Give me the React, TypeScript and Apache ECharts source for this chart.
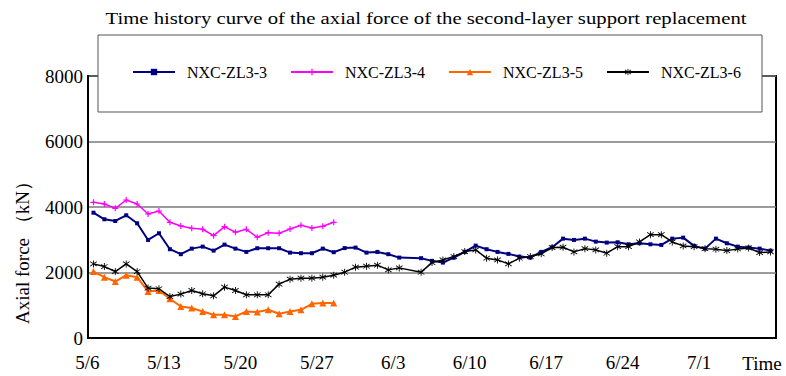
import React, { useEffect, useRef } from "react";
import * as echarts from "echarts";

const categories = [
  "5/6","5/7","5/8","5/9","5/10","5/11","5/12","5/13","5/14","5/15","5/16","5/17","5/18","5/19",
  "5/20","5/21","5/22","5/23","5/24","5/25","5/26","5/27","5/28","5/29","5/30","5/31",
  "6/1","6/2","6/3","6/4","6/5","6/6","6/7","6/8","6/9","6/10","6/11","6/12","6/13","6/14",
  "6/15","6/16","6/17","6/18","6/19","6/20","6/21","6/22","6/23","6/24","6/25","6/26","6/27",
  "6/28","6/29","6/30","7/1","7/2","7/3","7/4","7/5","7/6","7/7",
];

const seriesNames = ["NXC-ZL3-3", "NXC-ZL3-4", "NXC-ZL3-5", "NXC-ZL3-6"];

const zl3_3 = [
  3826, 3625, 3573, 3747, 3503, 2994, 3198, 2711, 2559, 2729, 2790, 2668, 2851, 2729,
  2629, 2741, 2741, 2741, 2607, 2589, 2589, 2729, 2620, 2745, 2760, 2607, 2629, 2559,
  2455, null, 2437, 2355, 2303, 2455, 2629, 2821, 2711, 2629, 2568, 2486, 2455, 2629,
  2772, 3034, 2994, 3034, 2943, 2913, 2923, 2862, 2893, 2862, 2842, 3034, 3065, 2812,
  2729, 3034, 2893, 2790, 2760, 2729, 2668,
];

const zl3_4 = [
  4143, 4091, 3960, 4213, 4091, 3786, 3878, 3533, 3421, 3351, 3320, 3125, 3399, 3229,
  3320, 3076, 3217, 3198, 3329, 3442, 3360, 3410, 3533,
];

const zl3_5 = [
  2029, 1858, 1724, 1919, 1858, 1419, 1450, 1197, 963, 914, 810, 710, 710, 658,
  810, 792, 862, 740, 810, 862, 1045, 1066, 1066,
];

const zl3_6 = [
  2263, 2181, 2029, 2263, 2029, 1523, 1502, 1267, 1340, 1450, 1349, 1288, 1553, 1450,
  1319, 1319, 1319, 1645, 1797, 1828, 1828, 1858, 1919, 2010, 2163, 2193, 2224, 2080,
  2141, null, 2010, 2303, 2385, 2486, 2638, 2690, 2437, 2385, 2263, 2437, 2486, 2570,
  2760, 2772, 2629, 2729, 2690, 2589, 2790, 2790, 2933, 3156, 3156, 2933, 2812, 2790,
  2729, 2711, 2668, 2720, 2750, 2607, 2629,
];

const FONT = "Liberation Serif";

const asterisk =
  "path://M4.4,0H5.6V10H4.4Z M0.3,2.2L0.9,1.2L9.7,7.8L9.1,8.8Z M9.1,1.2L9.7,2.2L0.9,8.8L0.3,7.8Z";
const plus = "path://M4,0H6V10H4Z M0,4H10V6H0Z";

export default function App() {
  const ref = useRef<HTMLDivElement>(null);

  useEffect(() => {
    if (!ref.current) return;
    const chart = echarts.init(ref.current, null, { renderer: "svg" });
    const mk = (
      name: string,
      data: (number | null)[],
      color: string,
      symbol: string,
      symbolSize: number,
      width: number
    ) => ({
      name,
      type: "line",
      data,
      connectNulls: true,
      symbol,
      symbolSize,
      showAllSymbol: true,
      lineStyle: { color, width },
      itemStyle: { color, borderWidth: 0 },
      emphasis: { disabled: true },
    });

    chart.setOption({
      animation: false,
      backgroundColor: "#fff",
      textStyle: { fontFamily: FONT },
      legend: {
        data: seriesNames,
        left: 127,
        top: 59,
        z: 60,
        itemWidth: 42,
        itemHeight: 8,
        itemGap: 23,
        textStyle: { fontFamily: FONT, fontSize: 16, color: "#000", padding: [0, 0, 0, 7] },
      },
      grid: {
        left: 88,
        right: 10,
        top: 76,
        bottom: 38,
        show: true,
        borderColor: "#000",
        borderWidth: 2,
        backgroundColor: "transparent",
      },
      xAxis: {
        type: "category",
        data: categories,
        boundaryGap: true,
        axisLine: { lineStyle: { color: "#000", width: 2 } },
        axisTick: { inside: true, length: 5, interval: 6, lineStyle: { color: "#000", width: 1.5 } },
        axisLabel: {
          interval: 6,
          margin: 15,
          padding: [0, 12, 0, 0],
          fontFamily: FONT,
          fontSize: 19,
          color: "#000",
        },
        splitLine: { show: false },
      },
      yAxis: {
        type: "value",
        min: 0,
        max: 8000,
        interval: 2000,
        axisLine: { show: true, lineStyle: { color: "#000", width: 2 } },
        axisTick: { show: false },
        axisLabel: {
          margin: 5,
          fontFamily: FONT,
          fontSize: 19,
          color: "#000",
          formatter: (v: number) => String(v),
        },
        splitLine: { lineStyle: { color: "#7a7a7a", width: 1.5 } },
      },
      graphic: [
        {
          type: "rect",
          z: 50,
          shape: { x: 98, y: 35, width: 664, height: 77 },
          style: { fill: "#fff", stroke: "#555", lineWidth: 1 },
        },
        {
          type: "text",
          x: 426,
          y: 18,
          scaleX: 1.22,
          style: {
            text: "Time history curve of the axial force of the second-layer support replacement",
            fontFamily: FONT,
            fontSize: 17,
            fill: "#000",
            align: "center",
            verticalAlign: "middle",
          },
        },
        {
          type: "text",
          x: 22,
          y: 248,
          rotation: Math.PI / 2,
          style: {
            text: "Axial force （kN）",
            fontFamily: FONT,
            fontSize: 19,
            fill: "#000",
            align: "center",
            verticalAlign: "middle",
          },
        },
        {
          type: "text",
          x: 762,
          y: 363,
          style: {
            text: "Time",
            fontFamily: FONT,
            fontSize: 19,
            fill: "#000",
            align: "center",
            verticalAlign: "middle",
          },
        },
      ],
      series: [
        mk(seriesNames[0], zl3_3, "#000080", "rect", 4, 2),
        mk(seriesNames[1], zl3_4, "#FF00FF", plus, 6, 1.5),
        mk(seriesNames[2], zl3_5, "#FF6600", "triangle", 7, 2),
        mk(seriesNames[3], zl3_6, "#000000", asterisk, 7, 1.5),
      ],
    });
    return () => chart.dispose();
  }, []);

  return (
    <div
      ref={ref}
      style={{ position: "fixed", left: 0, top: 0, width: 786, height: 376 }}
    />
  );
}
